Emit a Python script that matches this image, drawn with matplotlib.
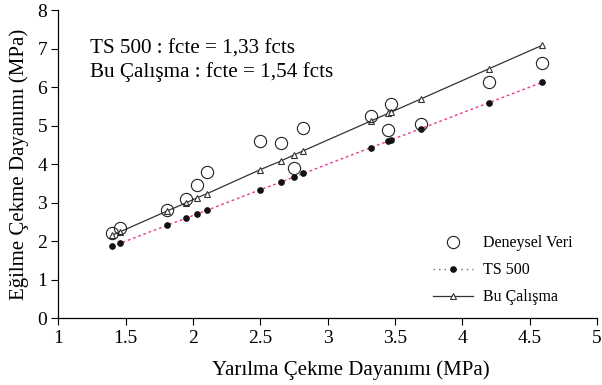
import matplotlib
matplotlib.use('Agg')
import matplotlib.pyplot as plt

plt.rcParams['font.family'] = ['Liberation Serif', 'DejaVu Serif']

# yarilma cekme dayanimi (x) ve olculen egilme cekme dayanimi
x_deney = [1.40, 1.46, 1.81, 1.95, 2.03, 2.10, 2.50, 2.65, 2.75, 2.82, 3.32, 3.47, 3.45, 3.69, 4.20, 4.59]
y_deney = [2.22, 2.35, 2.82, 3.11, 3.47, 3.80, 4.61, 4.55, 3.91, 4.95, 5.25, 5.56, 4.90, 5.04, 6.12, 6.62]

x_hesap = [1.40, 1.46, 1.81, 1.95, 2.03, 2.10, 2.50, 2.65, 2.75, 2.82, 3.32, 3.45, 3.47, 3.69, 4.20, 4.59]
y_ts500 = [1.87, 1.95, 2.42, 2.60, 2.71, 2.80, 3.34, 3.53, 3.67, 3.76, 4.43, 4.60, 4.63, 4.92, 5.60, 6.12]
y_bu = [2.16, 2.25, 2.79, 3.00, 3.13, 3.23, 3.86, 4.08, 4.24, 4.35, 5.12, 5.32, 5.35, 5.69, 6.48, 7.08]

fig = plt.figure(figsize=(6.02, 3.85), dpi=100)
ax = fig.add_axes([0.097, 0.173, 0.8947, 0.801])

ax.plot(x_deney, y_deney, 'o', ms=8.8, mfc='none', mec='#222222', mew=0.8,
        label='Deneysel Veri', zorder=3)
ax.plot(x_hesap, y_ts500, color='#ee3a96', ls=(0, (2, 2)), lw=1.0,
        marker='o', ms=3.8, mfc='#111111', mec='#111111', label='TS 500', zorder=2)
ax.plot(x_hesap, y_bu, color='#333333', lw=0.9, marker='^', ms=4.8,
        mfc='white', mec='#333333', mew=0.8, label='Bu Çalışma', zorder=2)

ax.set_xlim(1, 5)
ax.set_ylim(0, 8)
ax.set_xticks([1, 1.5, 2, 2.5, 3, 3.5, 4, 4.5, 5])
ax.set_xticklabels(['1', '1.5', '2', '2.5', '3', '3.5', '4', '4.5', '5'])
ax.set_yticks(range(0, 9))
ax.tick_params(direction='out', length=5, width=0.8, labelsize=14, pad=3)
for s in ['top', 'right']:
    ax.spines[s].set_visible(False)
for s in ['left', 'bottom']:
    ax.spines[s].set_linewidth(0.9)

ax.set_xlabel('Yarılma Çekme Dayanımı (MPa)', fontsize=15, labelpad=10, x=0.542)
ax.set_ylabel('Eğilme Çekme Dayanımı (MPa)', fontsize=15, labelpad=6)

ax.text(1.235, 6.68, 'TS 500 : fcte = 1,33 fcts\nBu Çalışma : fcte = 1,54 fcts',
        fontsize=15.2, va='center', ha='left', linespacing=1.2)

leg = ax.legend(loc='upper left', bbox_to_anchor=(427 / 602, 1 - 229 / 385),
                bbox_transform=fig.transFigure, borderaxespad=0, frameon=False,
                fontsize=11.5, handlelength=2.5, handletextpad=0.6, labelspacing=0.68)
leg.get_lines()[1].set_color('#666666')
leg.get_lines()[1].set_linestyle((0, (1, 3)))

fig.savefig('out.png', dpi=100)
